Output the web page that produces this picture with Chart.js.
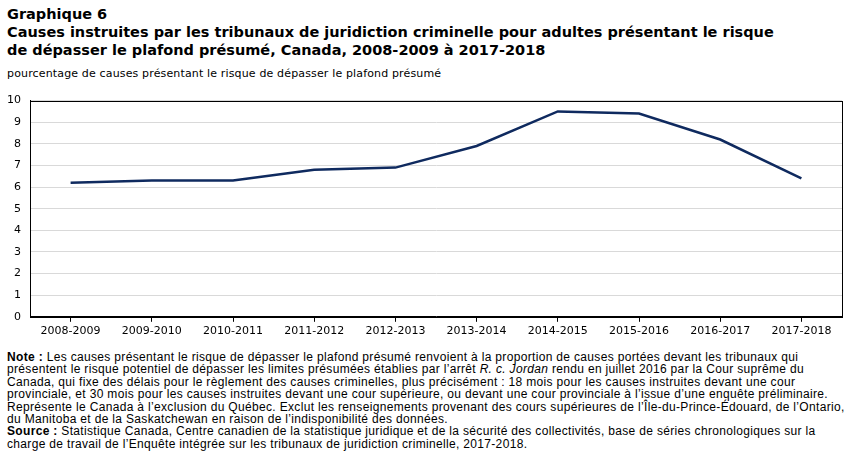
<!DOCTYPE html>
<html lang="fr">
<head>
<meta charset="utf-8">
<script src="https://cdn.jsdelivr.net/npm/chart.js@4"></script>
<style>
  html, body { margin: 0; padding: 0; background: #fff; }
  body { width: 852px; height: 454px; position: relative; overflow: hidden; font-family: "DejaVu Sans", Verdana, sans-serif; color: #000; }
  #title { position: absolute; left: 7px; top: 5px; font-weight: bold; font-size: 14.5px; line-height: 18px; }
  #ytitle { position: absolute; left: 7px; top: 67px; font-size: 11px; letter-spacing: 0.15px; }
  #wrap { position: absolute; left: 0; top: 85px; width: 852px; height: 256px; }
  #notes { position: absolute; left: 7px; top: 351px; font-family: "Liberation Sans", Arial, sans-serif; font-size: 12px; line-height: 12.4px; letter-spacing: 0.33px; }
</style>
</head>
<body>
<div id="title">Graphique 6<br>Causes instruites par les tribunaux de juridiction criminelle pour adultes présentant le risque<br>de dépasser le plafond présumé, Canada, 2008-2009 à 2017-2018</div>
<div id="ytitle">pourcentage de causes présentant le risque de dépasser le plafond présumé</div>
<div id="wrap"><canvas id="myChart"></canvas></div>
<div id="notes"><b>Note :</b> Les causes présentant le risque de dépasser le plafond présumé renvoient à la proportion de causes portées devant les tribunaux qui<br>présentent le risque potentiel de dépasser les limites présumées établies par l’arrêt <i>R. c. Jordan</i> rendu en juillet 2016 par la Cour suprême du<br>Canada, qui fixe des délais pour le règlement des causes criminelles, plus précisément : 18 mois pour les causes instruites devant une cour<br>provinciale, et 30 mois pour les causes instruites devant une cour supérieure, ou devant une cour provinciale à l’issue d’une enquête préliminaire.<br>Représente le Canada à l’exclusion du Québec. Exclut les renseignements provenant des cours supérieures de l’Île-du-Prince-Édouard, de l’Ontario,<br>du Manitoba et de la Saskatchewan en raison de l’indisponibilité des données.<br><b>Source :</b> Statistique Canada, Centre canadien de la statistique juridique et de la sécurité des collectivités, base de séries chronologiques sur la<br>charge de travail de l’Enquête intégrée sur les tribunaux de juridiction criminelle, 2017-2018.</div>
<script>
let years = ['2008-2009', '2009-2010', '2010-2011', '2011-2012', '2012-2013',
  '2013-2014', '2014-2015', '2015-2016', '2016-2017', '2017-2018'];
let pctAtRisk = [6.2, 6.3, 6.3, 6.8, 6.9, 7.9, 9.5, 9.4, 8.2, 6.4];
let yTicks = [0, 1, 2, 3, 4, 5, 6, 7, 8, 9, 10];

// black frame around the plot area
let frame = {
  id: 'frame',
  afterDraw(chart) {
    let a = chart.chartArea, c = chart.ctx;
    c.save();
    c.strokeStyle = '#000';
    c.lineWidth = 1;
    c.strokeRect(Math.round(a.left) + 0.5, Math.round(a.top) + 0.5, Math.round(a.right - a.left), Math.round(a.bottom - a.top));
    c.restore();
  }
};

Chart.defaults.font.family = '"DejaVu Sans", Verdana, sans-serif';
Chart.defaults.font.size = 11;
Chart.defaults.color = '#000';

let ctx = document.getElementById('myChart');
new Chart(ctx, {
  type: 'line',
  data: {
    labels: years,
    datasets: [{
      data: pctAtRisk,
      borderColor: '#0f2a5f',
      borderWidth: 2.5,
      pointRadius: 0,
      tension: 0,
      fill: false
    }]
  },
  plugins: [frame],
  options: {
    responsive: true,
    maintainAspectRatio: false,
    animation: false,
    layout: { padding: { top: 12, right: 10, left: 0, bottom: 0 } },
    plugins: { legend: { display: false }, tooltip: { enabled: false } },
    scales: {
      x: {
        offset: true,
        grid: { display: true, drawOnChartArea: false, drawTicks: true, tickLength: 5, color: '#000' },
        border: { color: '#000' },
        ticks: { maxRotation: 0, autoSkip: false, padding: 3 }
      },
      y: {
        min: 0,
        max: 10,
        afterBuildTicks(axis) { axis.ticks = yTicks.map(v => ({ value: v })); },
        afterFit(axis) { axis.width = 30; },
        grid: { color: '#d9d9d9', drawTicks: false },
        border: { color: '#000' },
        ticks: { padding: 9 }
      }
    }
  }
});
</script>
</body>
</html>
